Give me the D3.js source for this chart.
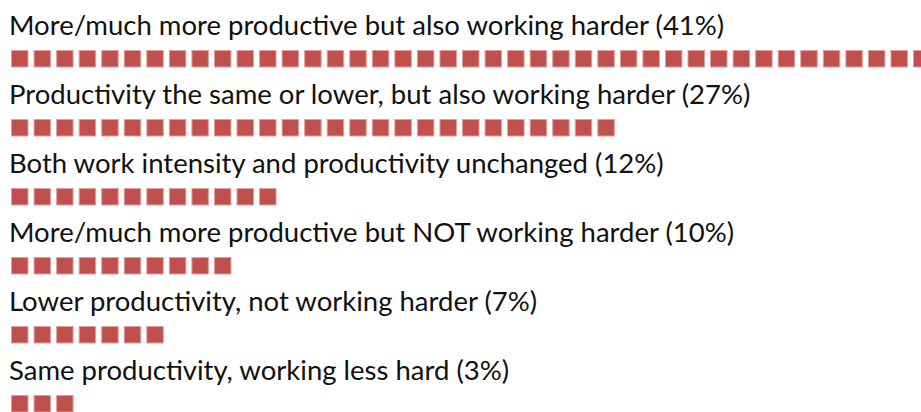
<!DOCTYPE html>
<html>
<head>
<meta charset="utf-8">
<script src="https://cdn.jsdelivr.net/npm/d3@7"></script>
<style>
  html, body { margin: 0; padding: 0; background: #fff; overflow: hidden; }
  svg { display: block; }
</style>
</head>
<body>
<script>
// categories and share of respondents (%), one square per percent
var categories = [
    "More/much more productive but also working harder",
    "Productivity the same or lower, but also working harder",
    "Both work intensity and productivity unchanged",
    "More/much more productive but NOT working harder",
    "Lower productivity, not working harder",
    "Same productivity, working less hard"
];
var shares = [41, 27, 12, 10, 7, 3];

var width = 921, height = 412;

var svg = d3.select("body")
    .append("svg")
    .attr("width", width)
    .attr("height", height);

// one row per category
var y = d3.scaleBand()
    .domain(categories)
    .range([0, 414])
    .padding(0);

// position of the n-th square
var x = d3.scaleLinear()
    .domain([0, 41])
    .range([11, 11 + 41 * 22.55]);

var rows = svg.selectAll("g.row")
    .data(categories.map((c, i) => ({ name: c, value: shares[i] })))
    .join("g")
    .attr("class", "row")
    .attr("transform", d => "translate(0," + y(d.name) + ")");

rows.append("text")
    .attr("x", 9)
    .attr("y", 35)
    .attr("font-family", "Lato, sans-serif")
    .attr("font-size", 27.5)
    .attr("fill", "#111")
    .text(d => d.name + " (" + d.value + "%)");

rows.selectAll("rect")
    .data(d => d3.range(d.value))
    .join("rect")
    .attr("x", i => x(i) + 0.5)
    .attr("y", 50.5)
    .attr("width", 16.5)
    .attr("height", 16.5)
    .attr("fill", "#c0504d")
    .attr("stroke", "#e0a09e")
    .attr("stroke-width", 1);
</script>
</body>
</html>
